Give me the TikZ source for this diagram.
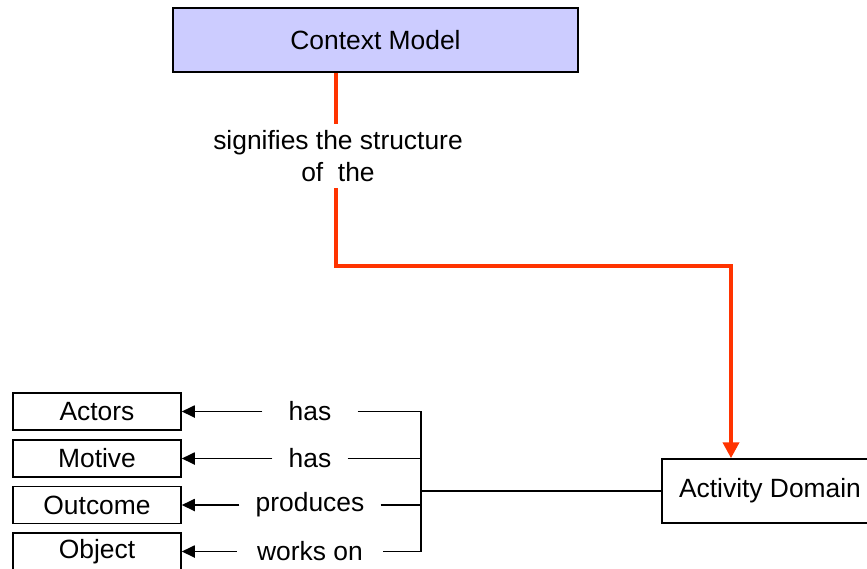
\documentclass[tikz,border=0pt]{standalone}
\usepackage{fontspec}
\setmainfont{Liberation Sans}
\usetikzlibrary{arrows.meta}
\definecolor{modelfill}{RGB}{204,204,255}
\definecolor{linkred}{RGB}{255,51,0}

\begin{document}
\begin{tikzpicture}
  [x=0.5pt, y=-0.5pt,
    every node/.style={font=\fontsize{13.2}{16}\selectfont},
    box/.style={draw, line width=0.75pt, inner sep=0pt},
    part/.style={box, minimum width=84pt, minimum height=18.5pt},
    rel/.style={inner sep=0pt, inner xsep=8pt, minimum height=10pt},
    link/.style={line width=0.9pt},
    to part/.style={link, -{Triangle[length=6.5pt, width=6pt]}},
    redlink/.style={draw=linkred, line width=2pt},
]
\useasboundingbox (0,0) rectangle (867,568);

\node[box, fill=modelfill, minimum width=202.5pt, minimum height=32pt] (cm) at (375.5,40) {Context Model};
\node[box, minimum width=108pt, minimum height=32pt] (ad) at (770,491) {Activity Domain};

\node[part] (actors) at (97,411.5) {Actors};
\node[part] (motive) at (97,458.5) {Motive};
\node[part] (outcome) at (97,505) {Outcome};
\node[part] (object) at (97,551.5) {Object};

\node[rel, inner xsep=13pt] (has1) at (310,411.5) {has};
\node[rel] (has2) at (310,458.5) {has};
\node[rel] (produces) at (310,505) {produces};
\node[rel, inner xsep=10pt] (workson) at (310,551.5) {works on};

\coordinate (jn) at (421,491);
\coordinate (bend1) at (336,266);
\coordinate (bend2) at (731,266);

\draw[redlink, -{Triangle[length=8pt, width=8pt]}] (cm.south -| bend1) -- (bend1) -- (bend2) -- (bend2 |- ad.north);
\node[fill=white, align=center, inner sep=3pt] (sig) at (338,156) {signifies the structure\\of\ \ the};

\draw[to part] (has1.west) -- (actors.east);
\draw[to part] (has2.west) -- (motive.east);
\draw[to part] (produces.west) -- (outcome.east);
\draw[to part] (workson.west) -- (object.east);

\draw[link] (has1.east) -- (has1.east -| jn) -- (workson.east -| jn) -- (workson.east);
\draw[link] (has2.east) -- (has2.east -| jn);
\draw[link] (produces.east) -- (produces.east -| jn);
\draw[link] (jn) -- (ad.west);
\end{tikzpicture}
\end{document}
